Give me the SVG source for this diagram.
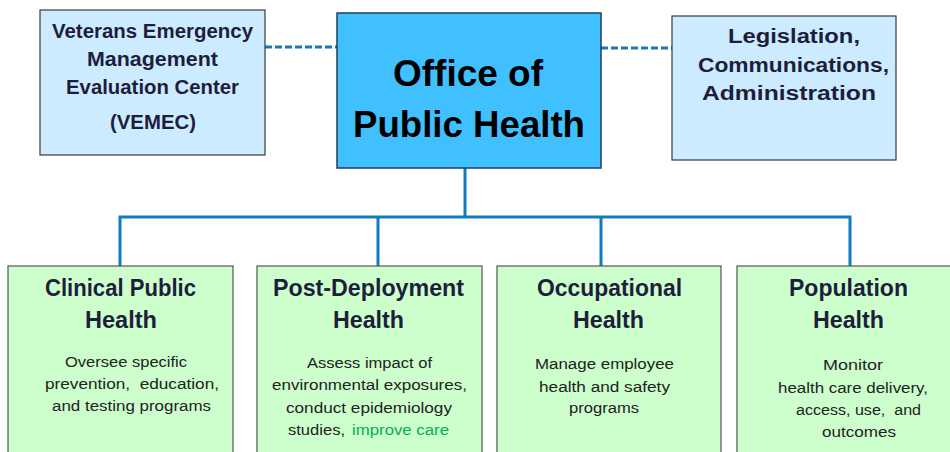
<svg xmlns="http://www.w3.org/2000/svg" width="950" height="452" viewBox="0 0 950 452">
<style>
.side{fill:#CCEBFF;stroke:#3a3a3a;stroke-width:1.2}
.main{fill:#40C0FF;stroke:#1E3F5A;stroke-width:1.5}
.unit{fill:#CCFFCC;stroke:#555;stroke-width:1.2}
.hd{font-family:"Liberation Sans",Arial,sans-serif;font-weight:bold;fill:#1E1E3C;text-anchor:middle}
.big{font-family:"Liberation Sans",Arial,sans-serif;font-weight:bold;fill:#000;text-anchor:middle;font-size:37px}
.ds{font-family:"Liberation Sans",Arial,sans-serif;fill:#222;text-anchor:middle;font-size:15.5px}
.conn{stroke:#0E7CC0;stroke-width:3;fill:none}
.dash{stroke:#1A78B8;stroke-width:3;fill:none;stroke-dasharray:7 3}
</style>
<rect width="950" height="452" fill="#fff"/>
<g id="connectors">
<path class="dash" d="M265 47H337"/>
<path class="dash" d="M601 48H672"/>
<path class="conn" d="M465 168V217"/>
<path class="conn" d="M120 266V217H850V266"/>
<path class="conn" d="M378 217V266"/>
<path class="conn" d="M601 217V266"/>
</g>
<g id="vemec">
<rect class="side" x="40" y="10" width="225" height="145"/>
<text class="hd" font-size="19.5" x="152.5" y="38" textLength="201" lengthAdjust="spacingAndGlyphs">Veterans Emergency</text>
<text class="hd" font-size="19.5" x="152.5" y="66" textLength="131" lengthAdjust="spacingAndGlyphs">Management</text>
<text class="hd" font-size="19.5" x="152.5" y="94" textLength="173" lengthAdjust="spacingAndGlyphs">Evaluation Center</text>
<text class="hd" font-size="19.5" x="153" y="129" textLength="86" lengthAdjust="spacingAndGlyphs">(VEMEC)</text>
</g>
<g id="office">
<rect class="main" x="337" y="13" width="264" height="155"/>
<text class="big" x="468" y="86" textLength="150" lengthAdjust="spacingAndGlyphs">Office of</text>
<text class="big" x="469" y="137" textLength="232" lengthAdjust="spacingAndGlyphs">Public Health</text>
</g>
<g id="legislation">
<rect class="side" x="672" y="16" width="224" height="144"/>
<text class="hd" font-size="19.5" x="794" y="43" textLength="132" lengthAdjust="spacingAndGlyphs">Legislation,</text>
<text class="hd" font-size="19.5" x="793.5" y="72" textLength="191" lengthAdjust="spacingAndGlyphs">Communications,</text>
<text class="hd" font-size="19.5" x="789" y="100" textLength="174" lengthAdjust="spacingAndGlyphs">Administration</text>
</g>
<g id="clinical">
<rect class="unit" x="8" y="266" width="225" height="200"/>
<text class="hd" font-size="23" x="120.5" y="296" textLength="151" lengthAdjust="spacingAndGlyphs">Clinical Public</text>
<text class="hd" font-size="23" x="121" y="328" textLength="72" lengthAdjust="spacingAndGlyphs">Health</text>
<text class="ds" x="126" y="367" textLength="122" lengthAdjust="spacingAndGlyphs">Oversee specific</text>
<text class="ds" x="132" y="389" textLength="174" lengthAdjust="spacingAndGlyphs" xml:space="preserve">prevention,  education,</text>
<text class="ds" x="131.5" y="411" textLength="159" lengthAdjust="spacingAndGlyphs">and testing programs</text>
</g>
<g id="postdeployment">
<rect class="unit" x="257" y="266" width="225" height="200"/>
<text class="hd" font-size="23" x="368.5" y="296" textLength="191" lengthAdjust="spacingAndGlyphs">Post-Deployment</text>
<text class="hd" font-size="23" x="368.5" y="328" textLength="71" lengthAdjust="spacingAndGlyphs">Health</text>
<text class="ds" x="369.5" y="368" textLength="125" lengthAdjust="spacingAndGlyphs">Assess impact of</text>
<text class="ds" x="369.5" y="390" textLength="195" lengthAdjust="spacingAndGlyphs">environmental exposures,</text>
<text class="ds" x="369" y="413" textLength="166" lengthAdjust="spacingAndGlyphs">conduct epidemiology</text>
<text class="ds" x="288" y="435" style="text-anchor:start" textLength="57" lengthAdjust="spacingAndGlyphs">studies,</text>
<text class="ds" x="352" y="435" style="text-anchor:start;fill:#00B050" textLength="97" lengthAdjust="spacingAndGlyphs">improve care</text>
</g>
<g id="occupational">
<rect class="unit" x="497" y="266" width="224" height="200"/>
<text class="hd" font-size="23" x="609.5" y="296" textLength="145" lengthAdjust="spacingAndGlyphs">Occupational</text>
<text class="hd" font-size="23" x="608.5" y="328" textLength="71" lengthAdjust="spacingAndGlyphs">Health</text>
<text class="ds" x="604.5" y="369" textLength="139" lengthAdjust="spacingAndGlyphs">Manage employee</text>
<text class="ds" x="604.5" y="392" textLength="131" lengthAdjust="spacingAndGlyphs">health and safety</text>
<text class="ds" x="604" y="413" textLength="70" lengthAdjust="spacingAndGlyphs">programs</text>
</g>
<g id="population">
<rect class="unit" x="737" y="266" width="230" height="200"/>
<text class="hd" font-size="23" x="848.5" y="296" textLength="119" lengthAdjust="spacingAndGlyphs">Population</text>
<text class="hd" font-size="23" x="848.5" y="328" textLength="71" lengthAdjust="spacingAndGlyphs">Health</text>
<text class="ds" x="853" y="370" textLength="60" lengthAdjust="spacingAndGlyphs">Monitor</text>
<text class="ds" x="853" y="393" textLength="150" lengthAdjust="spacingAndGlyphs">health care delivery,</text>
<text class="ds" x="858.5" y="415" textLength="125" lengthAdjust="spacingAndGlyphs" xml:space="preserve">access, use,  and</text>
<text class="ds" x="859" y="437" textLength="74" lengthAdjust="spacingAndGlyphs">outcomes</text>
</g>
</svg>
